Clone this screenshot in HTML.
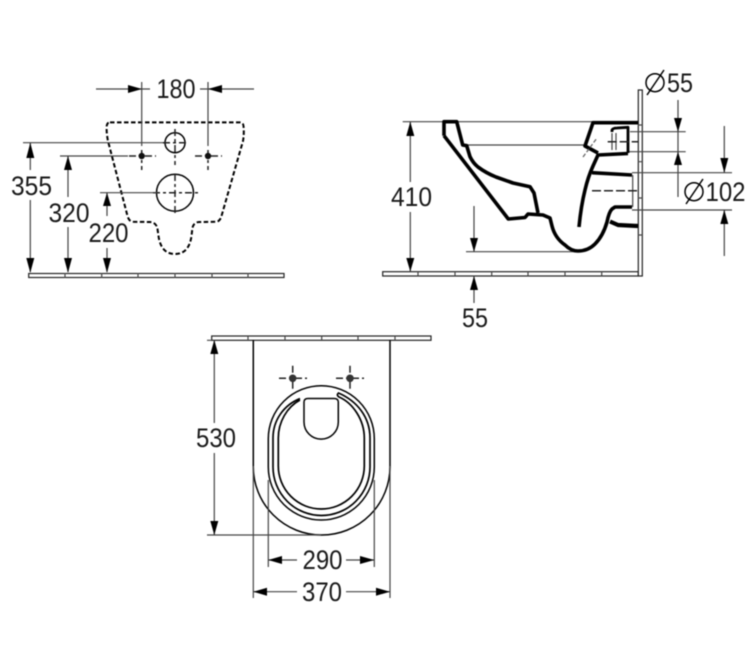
<!DOCTYPE html>
<html><head><meta charset="utf-8"><style>
html,body{margin:0;padding:0;background:#fff;width:750px;height:651px;overflow:hidden}
svg{display:block;filter:blur(.5px)}
text{font-family:"Liberation Sans",sans-serif;font-size:26.5px;fill:#1a1a1a;text-anchor:middle}
.t{stroke:#444;stroke-width:1.2;fill:none}
.b{stroke:#000;stroke-width:1.5;fill:none}
.k{stroke:#000;stroke-width:3.6;fill:none;stroke-linejoin:round}
.n{stroke:#000;stroke-width:2.8;fill:none;stroke-linejoin:round}
.d{stroke:#000;stroke-width:2;fill:none;stroke-dasharray:4.5 2.5}
.c{stroke:#222;stroke-width:1.5;fill:none;stroke-dasharray:7 3 3 3}
.r{fill:#fff;stroke:#222;stroke-width:1.2}
polygon{fill:#000}
</style></head><body>
<svg width="750" height="651" viewBox="0 0 750 651" xmlns="http://www.w3.org/2000/svg">
<!-- FRONT VIEW -->
<rect class="r" x="28.7" y="273.5" width="255.3" height="4"/>
<path class="t" d="M65 273v5M101.7 273v5M138 273v5M175 273v5M212 273v5M248 273v5"/>
<path class="d" d="M110 122.4H240Q243.5 122.4 243.6 127Q244.2 134 243 141L221.5 216Q220 221.5 216 221.8L199 222Q193 222.5 192.3 229L191.5 236Q189 254 175 254Q161 254 158.5 236L157.5 229Q156.5 222.5 150 222L133 221.8Q129 221.5 127.5 216L108 141Q106.5 134 106.6 127Q106.8 122.4 110 122.4Z"/>
<circle class="b" cx="175" cy="142.7" r="10"/>
<circle class="b" cx="175" cy="192.7" r="18.5"/>
<path class="c" d="M175 129V165M163 142.7H189M175 174V214M153 192.7H198"/>
<path class="c" d="M129 156H156M141.7 150V170M195 156H222M208 150V170"/>
<circle cx="141.7" cy="156" r="3.2" fill="#111"/>
<circle cx="208" cy="156" r="3.2" fill="#111"/>
<path class="t" d="M96 89H150M200 89H254M141.7 82V146M208 82V146"/>
<polygon points="142,89 128,85 128,93"/><polygon points="208,89 222,85 222,93"/>
<text x="176" y="98" textLength="39" lengthAdjust="spacingAndGlyphs">180</text>
<path class="t" d="M23 142.7H163M60 156H128M100 192.7H157"/>
<path class="t" d="M30.3 143V170M30.3 200V272M68 156V197M68 227V272M107 193V216M107 248V272"/>
<polygon points="30.3,142.7 26.3,158 34.3,158"/><polygon points="30.3,272.7 26.3,258 34.3,258"/>
<polygon points="68,156 64,170 72,170"/><polygon points="68,272.7 64,258 72,258"/>
<polygon points="107,192.7 103,206 111,206"/><polygon points="107,272.7 103,258 111,258"/>
<text x="31.5" y="195" textLength="41" lengthAdjust="spacingAndGlyphs">355</text>
<text x="69" y="222" textLength="41" lengthAdjust="spacingAndGlyphs">320</text>
<text x="108.5" y="242" textLength="40" lengthAdjust="spacingAndGlyphs">220</text>

<!-- SIDE VIEW -->
<rect class="r" x="382.7" y="271.7" width="255.6" height="4.3"/>
<rect class="r" x="638.3" y="90" width="4" height="186"/>
<path class="t" d="M418 271v5M455 271v5M491.7 271v5M528 271v5M565 271v5M601.7 271v5M638 125h5M638 161.7h5M638 198h5M638 235h5"/>
<path class="t" d="M402.7 121.7H595M462 145H584M466 251.7H580"/>
<path class="t" d="M630 131.7H685.7M628 151.7H685.7M632 172.7H732M632 210H732"/>
<path class="t" d="M410.3 122V182M410.3 212V271M474 206V252M474 276V303M678 100V197M724.3 126V173M724.3 210V256"/>
<polygon points="410.3,121.7 406.3,136 414.3,136"/><polygon points="410.3,271.5 406.3,258 414.3,258"/>
<polygon points="474,251.7 470,238 478,238"/><polygon points="474,276 470,290 478,290"/>
<polygon points="678,131.7 674,118 682,118"/><polygon points="678,151.7 674,165 682,165"/>
<polygon points="724.3,172.7 720.3,158 728.3,158"/><polygon points="724.3,210 720.3,224 728.3,224"/>
<path class="k" d="M444 135.7V121.7H456.7L462.7 145L466.7 145.7L470 156.7Q473 163 478 167Q486 173 496 177L513 183L530 186.7L534 193L538 213"/>
<path class="k" d="M444 135.7L508.3 219L525 217.5L528 214L543 215L550 218L552 226Q555 238 565 245Q571 251 578 251Q588 251 595 244Q603 236 607 222Q609 212 612 209L615 207H632"/>
<path class="k" d="M610 221.5L618 225L638 226" style="stroke-width:4.2"/>
<path class="k" d="M579 227Q581 206 585 190Q588 177 593 166L598 155L628 153.5"/>
<path class="k" d="M592 172.7L632 175"/>
<path class="k" d="M638 122.7H593L585 146L598 153"/>
<path class="n" d="M612 132V130Q613 128 617 128L628 127.3V153"/>
<path class="t" d="M616 133V150M612 133V150"/>
<path class="t" d="M632.7 175V207"/>
<path class="c" style="stroke-dasharray:9 3" d="M592 190.7H638M607.7 141.7H638"/>
<path d="M583 157L597 138" stroke="#666" stroke-width="1.3" stroke-dasharray="4 2" fill="none"/>
<circle class="b" cx="655" cy="82.7" r="9"/><path class="b" d="M647 95L664 70"/>
<text x="680" y="92" textLength="26" lengthAdjust="spacingAndGlyphs">55</text>
<circle class="b" cx="694" cy="191.7" r="9"/><path class="b" d="M686 204L703 179"/>
<text x="725.5" y="201" textLength="40" lengthAdjust="spacingAndGlyphs">102</text>
<text x="475" y="327" textLength="26" lengthAdjust="spacingAndGlyphs">55</text>
<text x="411.5" y="206" textLength="41" lengthAdjust="spacingAndGlyphs">410</text>

<!-- TOP VIEW -->
<rect class="r" x="211.7" y="336" width="219.3" height="4.3"/>
<path class="t" d="M248 336v5M285 336v5M321.7 336v5M358 336v5M395 336v5"/>
<path class="b" d="M253.3 340V466.7A68.35 68.35 0 0 0 390 466.7V340"/>
<path class="b" d="M268.3 438.7A53 53 0 0 1 374.3 438.7V467A53 53 0 0 1 268.3 467Z"/>
<path class="b" style="stroke-width:1.7" d="M300 398.6C284 405 273 420 273 438V467A48.5 48.5 0 0 0 370 467V438C370 417 357 401 338.5 393Q336 395 339 397C353 403 364.3 420 364.3 438V466A43 43 0 0 1 278.3 466V438C278.3 422 287 407 300 400"/>
<path class="b" d="M304 402Q304 398.5 308 398.5H334Q338.3 398.5 338.3 402V422A17.15 17.15 0 0 1 304 422Z"/>
<path class="c" d="M279 378.3H307M292.7 365.7V391.7M336 378.3H364M350 365.7V391.7"/>
<circle cx="292.7" cy="378.3" r="3.8" fill="#333"/><circle cx="350" cy="378.3" r="3.8" fill="#333"/>
<path class="t" d="M207 340.3H212M207 535H321M214.3 340V423M214.3 453V535"/>
<polygon points="214.3,340 210.3,354 218.3,354"/><polygon points="214.3,535 210.3,521 218.3,521"/>
<text x="216" y="447" textLength="40" lengthAdjust="spacingAndGlyphs">530</text>
<path class="t" d="M268.3 480V567M374.3 480V567M253.3 466V598M390 466V598M268 560H297M346 560H374M253 591.7H297M346 591.7H390"/>
<polygon points="268.3,560 282,556 282,564"/><polygon points="374.3,560 360,556 360,564"/>
<polygon points="253.3,591.7 267,587.7 267,595.7"/><polygon points="390,591.7 376,587.7 376,595.7"/>
<text x="322.5" y="569" textLength="40" lengthAdjust="spacingAndGlyphs">290</text>
<text x="322" y="601" textLength="40" lengthAdjust="spacingAndGlyphs">370</text>
</svg>
</body></html>
